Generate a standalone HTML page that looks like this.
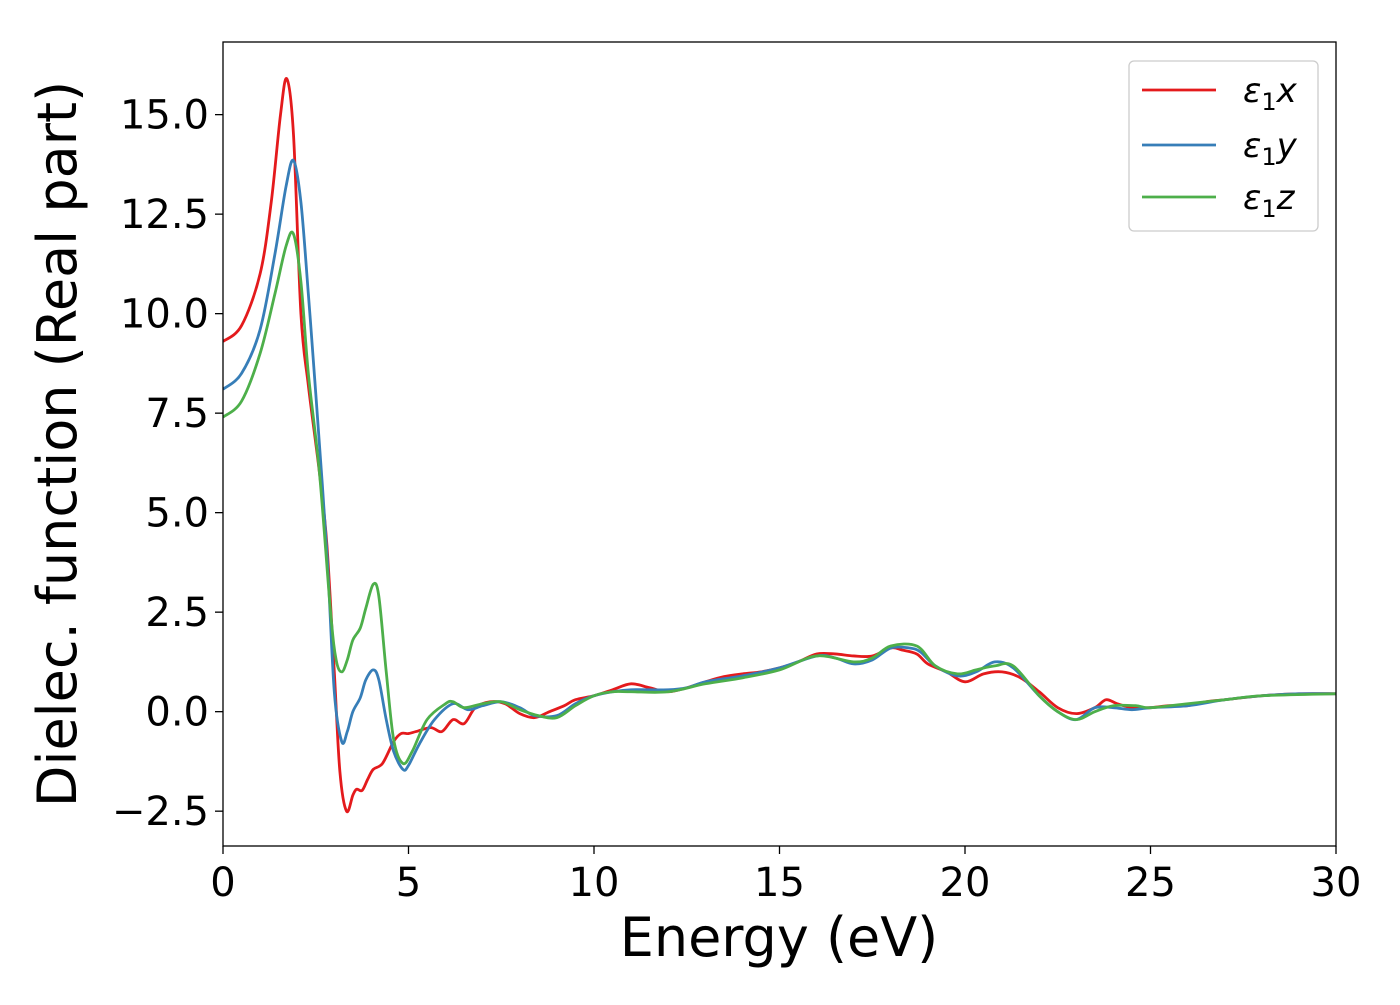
<!DOCTYPE html>
<html><head><meta charset="utf-8"><style>
body{margin:0;background:#fff;}
svg text{font-family:"DejaVu Sans","Liberation Sans",sans-serif;fill:#000;}
</style></head><body>
<svg id="chart" width="1400" height="1000" viewBox="0 0 1400 1000" xmlns="http://www.w3.org/2000/svg">
<rect width="1400" height="1000" fill="#fff"/>
<g id="series"></g>
<rect x="223" y="42" width="1113" height="804" fill="none" stroke="#000" stroke-width="1.3"/>
<g id="ticks"></g>
<text x="779" y="956" font-size="54" text-anchor="middle">Energy (eV)</text>
<text transform="translate(76,444) rotate(-90)" font-size="54" text-anchor="middle">Dielec. function (Real part)</text>
<g>
<rect x="1129" y="61" width="189" height="170" rx="5" fill="#fff" fill-opacity="0.8" stroke="#ccc" stroke-width="1.3"/>
<line x1="1142" y1="90" x2="1216" y2="90" stroke="#e41a1c" stroke-width="2.8"/>
<text x="1243" y="102" font-size="34" font-style="italic">ε<tspan font-size="24" font-style="normal" dy="8">1</tspan><tspan dy="-8">x</tspan></text>
<line x1="1142" y1="145" x2="1216" y2="145" stroke="#377eb8" stroke-width="2.8"/>
<text x="1243" y="157" font-size="34" font-style="italic">ε<tspan font-size="24" font-style="normal" dy="8">1</tspan><tspan dy="-8">y</tspan></text>
<line x1="1142" y1="197" x2="1216" y2="197" stroke="#4daf4a" stroke-width="2.8"/>
<text x="1243" y="209" font-size="34" font-style="italic">ε<tspan font-size="24" font-style="normal" dy="8">1</tspan><tspan dy="-8">z</tspan></text>
</g>
</svg>
<script>
const xTicks=[0,5,10,15,20,25,30];
const yTicks=[-2.5,0,2.5,5,7.5,10,12.5,15];
const yTickLabels=["−2.5","0.0","2.5","5.0","7.5","10.0","12.5","15.0"];
const eX=[0,0.5,1.0,1.3,1.55,1.72,1.9,2.1,2.3,2.6,2.8,3.0,3.15,3.33,3.5,3.6,3.75,3.9,4.05,4.3,4.6,4.8,5.0,5.2,5.6,5.9,6.2,6.5,6.8,7.2,7.6,8.0,8.4,8.8,9.2,9.5,10,10.5,11,11.5,12,12.5,13,13.5,14,14.5,15,15.5,16,16.5,17,17.5,18,18.3,18.7,19,19.5,20,20.5,21,21.5,22,22.5,23,23.5,23.8,24.1,24.5,25,25.5,26,26.5,27,28,29,30];
const vX=[9.3,9.7,11,12.8,15,15.9,14.5,10,8.2,6,4.2,1,-1.5,-2.5,-2.1,-1.95,-1.98,-1.7,-1.45,-1.3,-0.75,-0.55,-0.55,-0.5,-0.4,-0.5,-0.2,-0.3,0.1,0.25,0.2,-0.05,-0.15,0,0.15,0.3,0.4,0.55,0.7,0.6,0.5,0.6,0.75,0.88,0.95,1.0,1.1,1.25,1.45,1.45,1.4,1.4,1.6,1.55,1.45,1.2,1.0,0.75,0.95,1.0,0.85,0.5,0.1,-0.05,0.1,0.3,0.2,0.1,0.1,0.15,0.15,0.25,0.3,0.4,0.45,0.45];
const eY=[0,0.5,1.0,1.4,1.7,1.9,2.1,2.3,2.5,2.8,3.0,3.2,3.35,3.5,3.7,3.85,4.05,4.2,4.4,4.6,4.85,5.0,5.3,5.7,6.2,6.6,7.0,7.5,8.0,8.4,9.0,9.5,10,10.5,11,12,12.5,13,14,15,16,16.5,17,17.5,18,18.5,18.8,19.2,19.8,20.3,20.8,21.3,22,22.5,23,23.5,24,24.5,25,26,27,28,29,30];
const vY=[8.1,8.5,9.6,11.5,13.2,13.85,12.8,10.5,8,4,0.5,-0.75,-0.5,0,0.35,0.8,1.05,0.8,-0.2,-1.0,-1.45,-1.35,-0.8,-0.2,0.2,0.05,0.15,0.25,0.1,-0.1,-0.1,0.2,0.4,0.5,0.55,0.55,0.6,0.75,0.9,1.1,1.4,1.35,1.2,1.3,1.6,1.6,1.5,1.15,0.9,1.0,1.25,1.1,0.4,0.0,-0.2,0.1,0.1,0.05,0.1,0.15,0.3,0.4,0.45,0.45];
const eZ=[0,0.5,1.0,1.4,1.7,1.9,2.1,2.3,2.6,2.9,3.05,3.2,3.35,3.5,3.7,3.85,4.05,4.2,4.4,4.6,4.85,5.1,5.5,6.0,6.2,6.5,7.0,7.5,8.0,8.5,9.0,9.5,10,10.5,11,12,13,14,15,16,17,17.5,18,18.7,19.2,19.8,20.3,20.8,21.3,22,22.5,23,23.5,24,24.6,25,26,27,28,30];
const vZ=[7.4,7.8,9.0,10.5,11.7,12.0,10.8,8.5,6,2.5,1.3,1.0,1.3,1.8,2.1,2.6,3.2,2.9,1.0,-0.7,-1.3,-1.0,-0.2,0.2,0.25,0.1,0.2,0.25,0.05,-0.1,-0.15,0.15,0.4,0.5,0.5,0.5,0.7,0.85,1.05,1.4,1.25,1.35,1.65,1.65,1.15,0.95,1.05,1.15,1.15,0.4,0,-0.2,0.0,0.15,0.15,0.1,0.2,0.3,0.4,0.45];

const NS="http://www.w3.org/2000/svg";
const X0=223,X1=1336,Y0=846,Y1=42,xMin=0,xMax=30,yMin=-3.375,yMax=16.825;
const sx=v=>X0+(v-xMin)/(xMax-xMin)*(X1-X0);
const sy=v=>Y0-(v-yMin)/(yMax-yMin)*(Y0-Y1);
function pathFor(es,vs){
  const p=es.map((e,i)=>[sx(e),sy(vs[i])]);
  let d="M"+p[0][0].toFixed(2)+","+p[0][1].toFixed(2);
  for(let i=0;i<p.length-1;i++){
    const a=p[Math.max(0,i-1)],b=p[i],c=p[i+1],n=p[Math.min(p.length-1,i+2)];
    const c1=[b[0]+(c[0]-a[0])/6,b[1]+(c[1]-a[1])/6];
    const c2=[c[0]-(n[0]-b[0])/6,c[1]-(n[1]-b[1])/6];
    d+="C"+c1.map(v=>v.toFixed(2))+" "+c2.map(v=>v.toFixed(2))+" "+c[0].toFixed(2)+","+c[1].toFixed(2);
  }
  return d;
}
const sg=document.getElementById('series');
const defs=document.createElementNS(NS,'clipPath');defs.setAttribute('id','clip');
const cr=document.createElementNS(NS,'rect');cr.setAttribute('x',X0);cr.setAttribute('y',Y1);cr.setAttribute('width',X1-X0);cr.setAttribute('height',Y0-Y1);
defs.appendChild(cr);sg.appendChild(defs);
[[eX,vX,'#e41a1c','line-eps1-x'],[eY,vY,'#377eb8','line-eps1-y'],[eZ,vZ,'#4daf4a','line-eps1-z']].forEach(s=>{
  const el=document.createElementNS(NS,'path');
  el.setAttribute('d',pathFor(s[0],s[1]));
  el.setAttribute('fill','none');el.setAttribute('stroke',s[2]);el.setAttribute('stroke-width','2.8');
  el.setAttribute('clip-path','url(#clip)');
  
  
  sg.appendChild(el);
});
const tg=document.getElementById('ticks');
xTicks.forEach(t=>{
  const l=document.createElementNS(NS,'line');
  l.setAttribute('x1',sx(t));l.setAttribute('x2',sx(t));l.setAttribute('y1',Y0);l.setAttribute('y2',Y0+8);l.setAttribute('stroke','#000');l.setAttribute('stroke-width','1.3');
  
  
  tg.appendChild(l);
  const tx=document.createElementNS(NS,'text');
  tx.setAttribute('x',sx(t));tx.setAttribute('y',Y0+50);tx.setAttribute('font-size','40');tx.setAttribute('text-anchor','middle');
  tx.textContent=String(t);
  
  
  tg.appendChild(tx);
});
yTicks.forEach((t,i)=>{
  const l=document.createElementNS(NS,'line');
  l.setAttribute('x1',X0-8);l.setAttribute('x2',X0);l.setAttribute('y1',sy(t));l.setAttribute('y2',sy(t));l.setAttribute('stroke','#000');l.setAttribute('stroke-width','1.3');
  
  
  tg.appendChild(l);
  const tx=document.createElementNS(NS,'text');
  tx.setAttribute('x',X0-14);tx.setAttribute('y',sy(t)+14);tx.setAttribute('font-size','40');tx.setAttribute('text-anchor','end');
  tx.textContent=yTickLabels[i];
  
  
  tg.appendChild(tx);
});
</script>
</body></html>
